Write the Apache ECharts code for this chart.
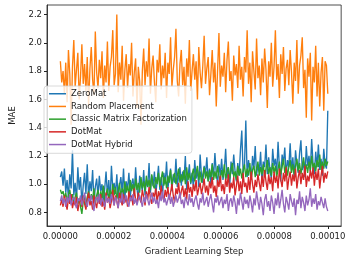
<!DOCTYPE html>
<html>
<head>
<meta charset="utf-8">
<script src="https://cdn.jsdelivr.net/npm/echarts@6/dist/echarts.min.js"></script>
<style>
  html, body { margin: 0; padding: 0; background: #fff; }
  #chart { width: 348px; height: 261px; }
</style>
</head>
<body>
<div id="chart"></div>
<script>
// learning steps run from 0 to 1e-4 in equal steps
const stepMax = 1e-4;
const xTicks = [0, 2e-5, 4e-5, 6e-5, 8e-5, 1e-4];
const yTicks = [0.8, 1.0, 1.2, 1.4, 1.6, 1.8, 2.0, 2.2];

const zeroMat = [
  1.05, 1.09, 0.99, 1.11, 0.94, 1.03, 0.90, 1.07, 0.97, 1.24,
  0.92, 1.01, 0.88, 1.12, 0.96, 1.05, 0.86, 0.99, 1.08, 0.93,
  1.14, 0.90, 1.02, 0.95, 1.10, 0.87, 0.98, 1.04, 0.91, 1.06,
  0.95, 1.00, 0.85, 0.97, 1.09, 0.92, 1.03, 0.88, 1.13, 0.96,
  1.01, 0.93, 1.07, 0.89, 0.99, 1.05, 0.94, 1.11, 0.90, 1.02,
  0.96, 1.08, 0.91, 1.00, 1.04, 0.93, 1.12, 0.97, 0.89, 1.06,
  1.01, 0.95, 1.10, 0.92, 1.03, 0.98, 1.15, 0.94, 1.06, 0.99,
  1.09, 0.93, 1.02, 1.13, 0.96, 1.05, 0.91, 1.08, 1.00, 1.16,
  0.97, 1.04, 1.11, 0.95, 1.07, 1.01, 1.18, 0.98, 1.06, 1.12,
  0.99, 1.09, 1.03, 1.20, 0.96, 1.05, 1.14, 1.00, 1.08, 0.97,
  1.17, 1.04, 1.10, 0.98, 1.21, 1.06, 1.01, 1.13, 1.07, 1.19,
  1.02, 1.11, 0.99, 1.15, 1.05, 1.22, 1.08, 1.00, 1.14, 1.06,
  1.18, 1.03, 1.10, 1.25, 1.04, 1.12, 0.98, 1.16, 1.07, 1.21,
  1.09, 1.02, 1.15, 1.06, 1.24, 1.38, 1.08, 1.13, 1.45, 1.05,
  1.17, 1.10, 1.03, 1.20, 1.11, 1.27, 1.06, 1.14, 1.09, 1.23,
  1.01, 1.16, 1.12, 1.28, 1.07, 1.19, 1.10, 1.04, 1.25, 1.13,
  1.18, 1.08, 1.30, 1.11, 1.02, 1.21, 1.15, 1.26, 1.06, 1.17,
  1.12, 1.29, 1.09, 1.19, 1.04, 1.24, 1.14, 1.08, 1.22, 1.31,
  1.10, 1.16, 1.05, 1.27, 1.13, 1.20, 1.09, 1.32, 1.15, 1.07,
  1.23, 1.12, 1.28, 1.10, 1.18, 1.06, 1.25, 1.14, 1.11, 1.52
];
const randomPlacement = [
  1.87, 1.72, 1.80, 1.64, 1.86, 1.58, 1.95, 1.78, 1.42, 1.83,
  2.02, 1.69, 1.81, 1.93, 1.60, 1.76, 1.99, 1.71, 1.85, 1.66,
  1.90, 1.55, 1.82, 1.97, 1.74, 1.63, 2.08, 1.79, 1.68, 1.88,
  1.75, 1.94, 1.61, 1.84, 1.72, 2.01, 1.66, 1.83, 1.90, 2.09,
  1.70, 1.78, 2.20, 1.65, 1.86, 1.74, 1.98, 1.59, 1.81, 1.92,
  1.68, 1.85, 1.77, 2.00, 1.62, 1.79, 1.89, 1.54, 1.83, 1.73,
  1.42, 1.80, 1.96, 1.70, 1.87, 1.76, 2.03, 1.64, 1.82, 1.91,
  1.72, 1.58, 1.88, 1.79, 1.99, 1.67, 1.84, 1.75, 1.93, 1.61,
  1.86, 1.78, 2.04, 1.69, 1.81, 1.90, 2.10, 1.73, 1.62, 1.85,
  1.95, 1.70, 1.83, 1.57, 1.89, 1.76, 2.02, 1.66, 1.80, 1.92,
  1.74, 1.87, 1.60, 1.97, 1.79, 1.68, 1.84, 2.05, 1.71, 1.82,
  1.90, 1.63, 1.78, 1.95, 1.72, 1.86, 1.55, 1.81, 2.07, 1.69,
  1.84, 1.76, 1.93, 1.65, 1.88, 2.01, 1.73, 1.80, 1.59, 1.91,
  1.77, 1.85, 1.68, 1.98, 1.74, 1.83, 1.62, 1.90, 1.79, 2.09,
  1.71, 1.86, 1.58, 1.94, 1.80, 1.67, 2.03, 1.75, 1.84, 1.63,
  1.89, 1.72, 1.96, 1.81, 1.54, 1.87, 1.76, 2.00, 1.69, 1.83,
  2.09, 1.74, 1.85, 1.61, 1.92, 1.78, 1.97, 1.66, 1.82, 1.88,
  1.70, 1.95, 1.79, 1.57, 1.86, 1.73, 2.02, 1.64, 1.84, 1.91,
  2.04, 1.68, 1.81, 1.47, 1.89, 1.76, 1.93, 1.45, 1.83, 1.72,
  1.98, 1.62, 1.86, 1.55, 1.79, 1.90, 1.52, 1.87, 1.84, 1.64
];
const classicMF = [
  0.96, 0.93, 0.95, 0.90, 0.94, 0.88, 0.92, 0.96, 0.89, 0.93,
  0.87, 0.91, 0.94, 0.86, 0.90, 0.84, 0.79, 0.88, 0.92, 0.85,
  0.91, 0.95, 0.87, 0.93, 0.89, 0.97, 0.86, 0.92, 0.96, 0.88,
  0.95, 0.90, 0.99, 0.87, 0.93, 0.97, 0.89, 0.96, 0.91, 1.00,
  0.92, 0.98, 0.90, 0.95, 1.01, 0.91, 0.97, 0.93, 1.02, 0.94,
  0.99, 0.92, 1.03, 0.95, 1.00, 0.93, 1.04, 0.96, 1.01, 0.94,
  1.05, 0.97, 1.02, 0.95, 1.06, 0.98, 1.03, 0.96, 1.07, 0.99,
  0.97, 1.05, 1.00, 1.08, 0.98, 1.04, 1.09, 0.99, 1.05, 0.97,
  1.06, 1.01, 1.10, 0.99, 1.05, 1.08, 1.00, 1.06, 1.11, 1.01,
  1.07, 1.02, 1.10, 1.00, 1.12, 1.03, 1.08, 1.01, 1.07, 1.11,
  1.02, 1.08, 1.13, 1.03, 1.09, 1.01, 1.07, 1.12, 1.04, 1.09,
  1.02, 1.10, 1.05, 1.14, 1.03, 1.09, 1.04, 1.13, 1.06, 1.02,
  1.10, 1.05, 1.14, 1.03, 1.09, 1.12, 1.04, 1.10, 1.15, 1.05,
  1.09, 1.03, 1.13, 1.06, 1.11, 1.04, 1.10, 1.14, 1.05, 1.11,
  1.06, 1.15, 1.04, 1.10, 1.13, 1.05, 1.11, 1.16, 1.06, 1.12,
  1.07, 1.14, 1.05, 1.11, 1.17, 1.07, 1.12, 1.06, 1.15, 1.08,
  1.13, 1.05, 1.11, 1.16, 1.07, 1.12, 1.18, 1.08, 1.13, 1.06,
  1.12, 1.17, 1.08, 1.14, 1.07, 1.13, 1.18, 1.09, 1.15, 1.07,
  1.13, 1.19, 1.09, 1.14, 1.08, 1.16, 1.10, 1.20, 1.11, 1.15,
  1.09, 1.17, 1.12, 1.21, 1.10, 1.16, 1.11, 1.18, 1.13, 1.16
];
const dotMat = [
  0.85, 0.89, 0.84, 0.92, 0.87, 0.82, 0.90, 0.86, 0.93, 0.83,
  0.88, 0.85, 0.91, 0.81, 0.87, 0.90, 0.84, 0.92, 0.86, 0.82,
  0.89, 0.94, 0.85, 0.88, 0.82, 0.92, 0.87, 0.83, 0.91, 0.86,
  0.93, 0.84, 0.89, 0.82, 0.94, 0.87, 0.91, 0.83, 0.88, 0.96,
  0.85, 0.92, 0.88, 0.83, 0.94, 0.89, 0.85, 0.93, 0.87, 0.91,
  0.84, 0.95, 0.88, 0.92, 0.85, 0.97, 0.89, 0.86, 0.94, 0.90,
  0.87, 0.96, 0.91, 0.85, 0.95, 0.89, 0.98, 0.90, 0.86, 0.94,
  0.91, 0.97, 0.87, 0.95, 0.90, 0.99, 0.92, 0.88, 0.96, 0.91,
  0.98, 0.89, 0.94, 1.00, 0.92, 0.87, 0.97, 0.93, 1.01, 0.90,
  0.95, 0.99, 0.91, 0.97, 0.89, 1.02, 0.94, 0.98, 0.91, 1.00,
  0.95, 1.03, 0.92, 0.97, 1.01, 0.93, 0.98, 1.04, 0.94, 0.99,
  0.92, 1.02, 0.97, 1.05, 0.94, 0.99, 0.91, 1.03, 0.98, 1.06,
  0.95, 1.00, 0.93, 1.04, 0.98, 1.07, 0.94, 1.01, 0.97, 1.05,
  0.92, 0.99, 1.06, 0.95, 1.02, 0.93, 1.08, 0.98, 1.01, 0.94,
  1.05, 0.96, 1.09, 1.00, 0.94, 1.03, 0.98, 1.07, 1.01, 0.95,
  1.06, 0.98, 1.10, 1.02, 0.96, 1.07, 1.00, 1.05, 0.95, 1.09,
  1.01, 1.06, 0.97, 1.11, 1.03, 0.98, 1.08, 1.02, 1.12, 0.96,
  1.04, 1.09, 0.99, 1.07, 1.02, 1.11, 0.97, 1.05, 1.10, 1.00,
  1.08, 1.03, 1.13, 0.98, 1.06, 1.02, 1.10, 1.04, 1.12, 0.99,
  1.09, 1.03, 1.11, 0.97, 1.06, 1.13, 1.01, 1.08, 1.04, 1.09
];
const dotMatHybrid = [
  0.88, 0.92, 0.86, 0.90, 0.84, 0.91, 0.87, 0.93, 0.85, 0.89,
  0.91, 0.86, 0.83, 0.90, 0.88, 0.92, 0.85, 0.89, 0.94, 0.87,
  0.84, 0.90, 0.88, 0.92, 0.86, 0.81, 0.89, 0.91, 0.87, 0.93,
  0.85, 0.90, 0.88, 0.84, 0.92, 0.87, 0.90, 0.86, 0.93, 0.89,
  0.85, 0.91, 0.88, 0.83, 0.90, 0.87, 0.94, 0.86, 0.89, 0.92,
  0.87, 0.84, 0.91, 0.88, 0.93, 0.86, 0.90, 0.85, 0.89, 0.92,
  0.88, 0.84, 0.91, 0.87, 0.93, 0.89, 0.85, 0.90, 0.94, 0.87,
  0.91, 0.86, 0.89, 0.83, 0.92, 0.88, 0.95, 0.87, 0.90, 0.85,
  0.89, 0.93, 0.86, 0.91, 0.84, 0.88, 0.92, 0.87, 0.90, 0.94,
  0.86, 0.89, 0.83, 0.91, 0.88, 0.85, 0.93, 0.87, 0.90, 0.84,
  0.89, 0.92, 0.86, 0.82, 0.90, 0.87, 0.94, 0.85, 0.88, 0.91,
  0.84, 0.89, 0.93, 0.86, 0.80, 0.90, 0.87, 0.92, 0.85, 0.88,
  0.91, 0.83, 0.89, 0.86, 0.93, 0.81, 0.88, 0.90, 0.84, 0.92,
  0.87, 0.79, 0.90, 0.85, 0.94, 0.88, 0.82, 0.91, 0.86, 0.89,
  0.83, 0.92, 0.87, 0.80, 0.90, 0.85, 0.95, 0.88, 0.82, 0.91,
  0.86, 0.78, 0.89, 0.93, 0.84, 0.88, 0.81, 0.92, 0.87, 0.79,
  0.90, 0.85, 0.94, 0.83, 0.89, 0.96, 0.86, 0.80, 0.91, 0.87,
  0.82, 0.93, 0.88, 0.84, 0.90, 0.78, 0.89, 0.86, 0.95, 0.83,
  0.91, 0.87, 0.81, 0.92, 0.85, 0.89, 0.97, 0.84, 0.90, 0.86,
  0.93, 0.82, 0.88, 0.85, 0.91, 0.87, 0.83, 0.90, 0.84, 0.81
];

const seriesList = [
  { name: 'ZeroMat', color: '#1f77b4', data: zeroMat },
  { name: 'Random Placement', color: '#ff7f0e', data: randomPlacement },
  { name: 'Classic Matrix Factorization', color: '#2ca02c', data: classicMF },
  { name: 'DotMat', color: '#d62728', data: dotMat },
  { name: 'DotMat Hybrid', color: '#9467bd', data: dotMatHybrid },
];

const font = 'DejaVu Sans';
const toPoints = (vals) => vals.map((v, i) => [i * stepMax / (vals.length - 1), v]);

var myChart = echarts.init(document.getElementById('chart'), null, { renderer: 'canvas' });
const option = {
  animation: false,
  grid: {
    left: 39,
    right: 3,
    top: 5,
    bottom: 28,
    show: true,
    borderColor: '#222',
    borderWidth: 0.8,
    backgroundColor: 'transparent'
  },
  legend: {
    orient: 'vertical',
    left: 44,
    top: 86,
    icon: 'rect',
    itemWidth: 17,
    itemHeight: 1.5,
    itemGap: 3.2,
    padding: [3, 5, 4, 5],
    backgroundColor: 'rgba(255,255,255,0.8)',
    borderColor: '#d0d0d0',
    borderWidth: 0.8,
    borderRadius: 3,
    textStyle: { fontFamily: font, fontSize: 8.5, color: '#222', lineHeight: 9.5 },
    data: seriesList.map(s => s.name)
  },
  xAxis: {
    type: 'value',
    min: -0.5e-5,
    max: 10.5e-5,
    name: 'Gradient Learning Step',
    nameLocation: 'middle',
    nameGap: 21,
    nameTextStyle: { fontFamily: font, fontSize: 8.5, color: '#222' },
    axisLine: { show: true, onZero: false, lineStyle: { color: '#222', width: 0.8 } },
    axisTick: { show: true, length: 3, lineStyle: { color: '#222' }, customValues: xTicks },
    axisLabel: {
      fontFamily: font, fontSize: 8.5, color: '#222', margin: 6,
      customValues: xTicks,
      formatter: (v) => v.toFixed(5)
    },
    splitLine: { show: false }
  },
  yAxis: {
    type: 'value',
    min: 0.704,
    max: 2.268,
    name: 'MAE',
    nameLocation: 'middle',
    nameGap: 30,
    nameRotate: 90,
    nameTextStyle: { fontFamily: font, fontSize: 8.5, color: '#222' },
    axisLine: { show: true, onZero: false, lineStyle: { color: '#222', width: 0.8 } },
    axisTick: { show: true, length: 3, lineStyle: { color: '#222' }, customValues: yTicks },
    axisLabel: {
      fontFamily: font, fontSize: 8.5, color: '#222', margin: 5,
      customValues: yTicks,
      formatter: (v) => v.toFixed(1)
    },
    splitLine: { show: false }
  },
  series: seriesList.map(s => ({
    name: s.name,
    type: 'line',
    showSymbol: false,
    symbol: 'none',
    color: s.color,
    lineStyle: { width: 1.35, color: s.color },
    data: toPoints(s.data)
  }))
};
myChart.setOption(option);
</script>
</body>
</html>
